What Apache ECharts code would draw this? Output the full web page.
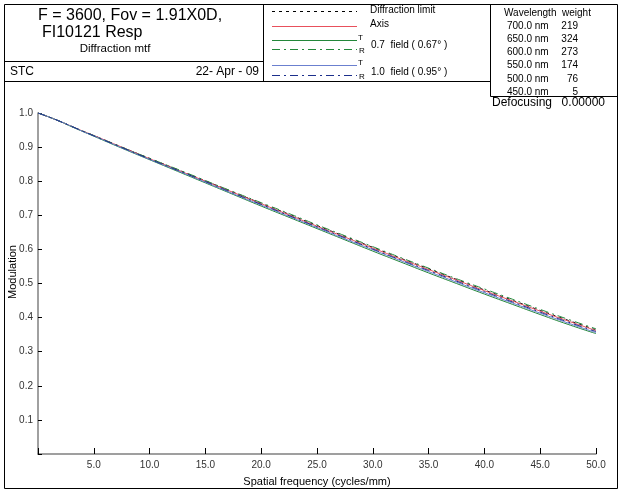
<!DOCTYPE html>
<html>
<head>
<meta charset="utf-8">
<script src="https://cdn.jsdelivr.net/npm/echarts@6/dist/echarts.min.js"></script>
<style>
html,body{margin:0;padding:0;background:#fff;}
#c{width:623px;height:492px;}
</style>
</head>
<body>
<div id="c"></div>
<script>
// Spatial frequency (cycles/mm)
var freq = [0,1,2,3,4,5,7.5,10,12.5,15,17.5,20,22.5,25,27.5,30,32.5,35,37.5,40,42.5,45,47.5,50];
// Modulation values
var diffLimit = [1.000,0.988,0.975,0.961,0.947,0.934,0.900,0.867,0.834,0.801,0.768,0.735,0.703,0.670,0.638,0.606,0.574,0.543,0.512,0.481,0.451,0.421,0.392,0.364];
var axisMtf   = [1.000,0.988,0.975,0.961,0.947,0.934,0.900,0.866,0.833,0.800,0.767,0.734,0.701,0.668,0.636,0.604,0.572,0.541,0.510,0.479,0.449,0.419,0.390,0.362];
var f07T      = [1.000,0.988,0.975,0.960,0.946,0.932,0.897,0.863,0.829,0.795,0.761,0.727,0.694,0.661,0.628,0.595,0.563,0.531,0.500,0.469,0.439,0.409,0.380,0.353];
var f07R      = [1.000,0.988,0.975,0.961,0.947,0.934,0.900,0.867,0.835,0.802,0.769,0.737,0.705,0.672,0.640,0.608,0.576,0.545,0.514,0.484,0.454,0.424,0.395,0.367];
var f10T      = [1.000,0.988,0.975,0.961,0.946,0.933,0.898,0.864,0.831,0.797,0.763,0.730,0.697,0.664,0.631,0.599,0.567,0.535,0.504,0.473,0.443,0.413,0.384,0.356];
var f10R      = [1.000,0.988,0.975,0.961,0.947,0.933,0.899,0.865,0.832,0.799,0.765,0.732,0.699,0.666,0.634,0.601,0.569,0.538,0.507,0.476,0.446,0.416,0.387,0.359];

var wavelengths = ['700.0 nm','650.0 nm','600.0 nm','550.0 nm','500.0 nm','450.0 nm'];
var weights = ['219','324','273','174','76','5'];

function pairs(ys){ return freq.map(function(x,i){ return [x, ys[i]]; }); }

var FONT = 'Liberation Sans, Arial, sans-serif';
function txt(s, x, y, size, align, color){
  return {type:'text', x:x, y:y, silent:true, style:{text:s, font: size+'px '+FONT, fill: color||'#000',
    align: align||'left', verticalAlign:'middle', textAlign: align||'left', textVerticalAlign:'middle'}};
}
function ln(x1,y1,x2,y2,color,dash,w){
  return {type:'line', silent:true, shape:{x1:x1,y1:y1,x2:x2,y2:y2},
    style:{stroke:color||'#000', lineWidth:w||1, lineDash:dash||null}};
}

var C_RED = '#e8505c', C_GREEN = '#23873a', C_BLUE = '#6b80cf', C_NAVY = '#1c2f8c';
var DASHDOT = [8,4,2,4];

var els = [];
// frame
els.push({type:'rect', silent:true, shape:{x:4.5, y:4.5, width:613, height:484}, style:{fill:null, stroke:'#000', lineWidth:1}});
els.push(ln(4.5,81.5,490.5,81.5));
els.push(ln(490.5,96.5,617.5,96.5));
els.push(ln(263.5,4.5,263.5,81.5));
els.push(ln(4.5,61.5,263.5,61.5));
els.push(ln(490.5,4.5,490.5,96.5));
// title block
els.push(txt('F = 3600, Fov = 1.91X0D,', 38, 16, 16));
els.push(txt('FI10121 Resp', 42, 33, 16));
els.push(txt('Diffraction mtf', 115, 49, 11.5, 'center'));
els.push(txt('STC', 10, 72, 12));
els.push(txt('22- Apr - 09', 259, 72, 12, 'right'));
// legend block
els.push(ln(272,11.5,357,11.5,'#000',[3,4]));
els.push(txt('Diffraction limit', 370, 10, 10));
els.push(ln(272,26.5,357,26.5,C_RED));
els.push(txt('Axis', 370, 24, 10));
els.push(ln(272,40.5,357,40.5,C_GREEN));
els.push(ln(272,49.5,357,49.5,C_GREEN,DASHDOT));
els.push(txt('T', 358, 38, 8));
els.push(txt('R', 359, 51, 8));
els.push(txt('0.7  field ( 0.67° )', 371, 45, 10));
els.push(ln(272,65.5,357,65.5,C_BLUE));
els.push(ln(272,75.5,357,75.5,C_NAVY,DASHDOT));
els.push(txt('T', 358, 63, 8));
els.push(txt('R', 359, 77, 8));
els.push(txt('1.0  field ( 0.95° )', 371, 72, 10));
// wavelength block
els.push(txt('Wavelength', 504, 13, 10));
els.push(txt('weight', 562, 13, 10));
for (var i=0;i<wavelengths.length;i++){
  els.push(txt(wavelengths[i], 507, 26+i*13.2, 10));
  els.push(txt(weights[i], 578, 26+i*13.2, 10, 'right'));
}
els.push(txt('Defocusing', 492, 103, 12));
els.push(txt('0.00000', 605, 103, 12, 'right'));
// y axis name
els.push({type:'text', x:13, y:272, rotation:Math.PI/2, silent:true,
  style:{text:'Modulation', font:'11px '+FONT, fill:'#000', align:'center', verticalAlign:'middle', textAlign:'center', textVerticalAlign:'middle'}});

function series(name, data, color, dash, z){
  return {name:name, type:'line', data:pairs(data), showSymbol:false, symbol:'none', smooth:true,
    lineStyle:{color:color, width:1, type: dash||'solid'}, z:z, animation:false};
}

var chart = echarts.init(document.getElementById('c'), null, {renderer:'canvas'});
chart.setOption({
  animation:false,
  backgroundColor:'#fff',
  grid:{left:38, right:27, top:113, bottom:33, containLabel:false},
  xAxis:{type:'value', min:0, max:50, interval:5,
    name:'Spatial frequency (cycles/mm)', nameLocation:'middle', nameGap:22,
    nameTextStyle:{color:'#000', fontSize:11, fontFamily:FONT},
    axisLine:{lineStyle:{color:'#808080', width:1.5}},
    axisTick:{inside:true, length:6, lineStyle:{color:'#000'}},
    axisLabel:{color:'#333', fontSize:10, fontFamily:FONT, margin:6,
      formatter:function(v){ return v===0 ? '' : v.toFixed(1); }},
    splitLine:{show:false}},
  yAxis:{type:'value', min:0, max:1, interval:0.1,
    axisLine:{show:true, lineStyle:{color:'#808080', width:1.5}},
    axisTick:{show:true, inside:true, length:4, lineStyle:{color:'#000'}},
    axisLabel:{color:'#333', fontSize:10, fontFamily:FONT, margin:5,
      formatter:function(v){ return v===0 ? '' : v.toFixed(1); }},
    splitLine:{show:false}},
  graphic:{elements:els},
  series:[
    series('Diffraction limit', diffLimit, '#000', [3,4], 2),
    series('Axis', axisMtf, C_RED, null, 3),
    series('0.7 T', f07T, C_GREEN, null, 4),
    series('0.7 R', f07R, C_GREEN, DASHDOT, 5),
    series('1.0 T', f10T, C_BLUE, null, 6),
    series('1.0 R', f10R, C_NAVY, DASHDOT, 7)
  ]
});
</script>
</body>
</html>
